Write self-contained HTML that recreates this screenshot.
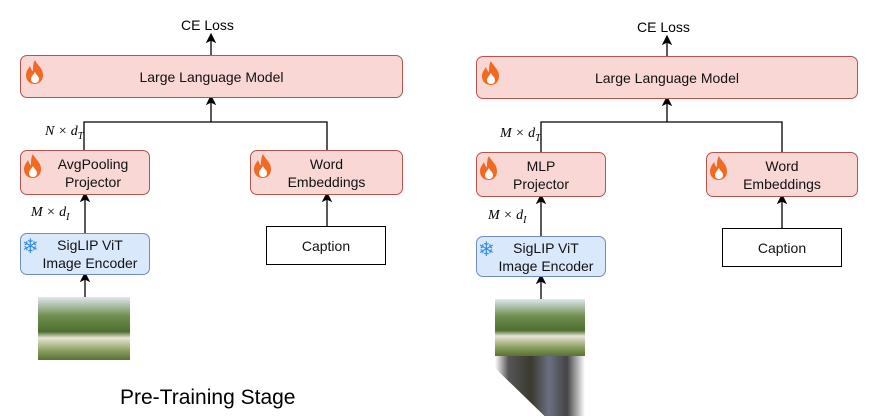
<!DOCTYPE html>
<html><head><style>
body{margin:0;width:884px;height:420px;background:#fff;position:relative;overflow:hidden;font-family:"Liberation Sans",sans-serif}
.b{position:absolute;box-sizing:border-box;display:flex;align-items:center;justify-content:center;text-align:center;font-size:14px;line-height:18px;color:#111;border-radius:7px}
.r{background:#f8d7d5;border:1px solid #b85450}
.bl{background:#dae8fc;border:1px solid #6c8ebf}
.w{background:#fff;border:1px solid #000;border-radius:0}
.t{position:absolute;font-size:14px}
.m{position:absolute;font-family:"Liberation Serif",serif;font-style:italic;font-size:14px}
.img{position:absolute;background:linear-gradient(180deg,#dfe8ee 0%,#6f8f50 30%,#4d6e2f 55%,#e8e4d6 65%,#8aa060 85%,#5a7035 100%)}
.f{position:absolute;width:22px;height:26px}
.s{position:absolute;color:#3a8ee6;font-family:"DejaVu Sans",sans-serif;font-size:20px;line-height:20px}
</style></head><body>
<svg width="884" height="420" style="position:absolute;left:0;top:0">
<defs><marker id="a" markerWidth="8" markerHeight="8" refX="4" refY="4" orient="auto"><path d="M0,0L8,4L0,8L2,4z" fill="#000"/></marker></defs>
<g stroke="#000" stroke-width="1.3" fill="none">
<line x1="211" y1="55" x2="211" y2="38" marker-end="url(#a)"/>
<polyline points="84,150 84,122 327,122 327,150"/>
<line x1="211" y1="122" x2="211" y2="100" marker-end="url(#a)"/>
<line x1="85" y1="233" x2="85" y2="197" marker-end="url(#a)"/>
<line x1="327" y1="226" x2="327" y2="197" marker-end="url(#a)"/>
<line x1="85" y1="297" x2="85" y2="277" marker-end="url(#a)"/>
<line x1="667" y1="56" x2="667" y2="40" marker-end="url(#a)"/>
<polyline points="541,152 541,122 782,122 782,152"/>
<line x1="667" y1="122" x2="667" y2="101" marker-end="url(#a)"/>
<line x1="541" y1="236" x2="541" y2="199" marker-end="url(#a)"/>
<line x1="782" y1="228" x2="782" y2="199" marker-end="url(#a)"/>
<line x1="541" y1="299" x2="541" y2="279" marker-end="url(#a)"/>
</g></svg>
<div class="t" style="left:181px;top:17px">CE Loss</div>
<div class="t" style="left:637px;top:19px">CE Loss</div>
<div class="b r" style="left:20px;top:55px;width:383px;height:43px">Large Language Model</div>
<div class="b r" style="left:476px;top:56px;width:382px;height:43px">Large Language Model</div>
<div class="m" style="left:45px;top:124px">N × d<sub style="font-size:10px">T</sub></div>
<div class="m" style="left:500px;top:126px">M × d<sub style="font-size:10px">T</sub></div>
<div class="b r" style="left:20px;top:150px;width:130px;height:45px;padding-left:16px">AvgPooling<br>Projector</div>
<div class="b r" style="left:250px;top:150px;width:153px;height:45px">Word<br>Embeddings</div>
<div class="b r" style="left:476px;top:152px;width:130px;height:45px">MLP<br>Projector</div>
<div class="b r" style="left:706px;top:152px;width:152px;height:45px">Word<br>Embeddings</div>
<div class="m" style="left:31px;top:205px">M × d<sub style="font-size:10px">I</sub></div>
<div class="m" style="left:488px;top:208px">M × d<sub style="font-size:10px">I</sub></div>
<div class="b bl" style="left:20px;top:233px;width:130px;height:42px;padding-left:10px">SigLIP ViT<br>Image Encoder</div>
<div class="b bl" style="left:476px;top:236px;width:130px;height:41px;padding-left:10px">SigLIP ViT<br>Image Encoder</div>
<div class="b w" style="left:266px;top:226px;width:120px;height:39px">Caption</div>
<div class="b w" style="left:722px;top:228px;width:120px;height:39px">Caption</div>
<div class="img" style="left:38px;top:297px;width:92px;height:63px"></div>
<div class="img" style="left:495px;top:299px;width:90px;height:57px"></div>
<div style="position:absolute;left:495px;top:356px;width:90px;height:60px;background:linear-gradient(90deg,#fff 0%,#555 15%,#3a3a30 40%,#6a7080 60%,#444 80%,#fff 100%);clip-path:polygon(0 0,100% 0,100% 100%,55% 100%,0 20%)"></div>
<div class="t" style="left:120px;top:386px;font-size:21px">Pre-Training Stage</div>
<svg width="0" height="0" style="position:absolute"><defs><symbol id="fire" viewBox="0 0 22 26"><path d="M11,1 C13,6 19,9 19,16 C19,22 15,25 11,25 C6,25 2,22 2,16 C2,12 5,9 6,7 C7,10 8,12 9,12 C9,8 9,4 11,1Z" fill="#f26a22"/><path d="M11,13 C12,16 15,17 15,20 C15,23 13,24 11,24 C8,24 7,22 7,20 C7,18 9,16 11,13Z" fill="#fff"/></symbol></defs></svg>
<svg class="f" style="left:24px;top:59px"><use href="#fire"/></svg>
<svg class="f" style="left:480px;top:60px"><use href="#fire"/></svg>
<svg class="f" style="left:22px;top:153px"><use href="#fire"/></svg>
<svg class="f" style="left:252px;top:153px"><use href="#fire"/></svg>
<svg class="f" style="left:478px;top:155px"><use href="#fire"/></svg>
<svg class="f" style="left:708px;top:155px"><use href="#fire"/></svg>
<div class="s" style="left:22px;top:236px">❄</div>
<div class="s" style="left:478px;top:239px">❄</div>
</body></html>
